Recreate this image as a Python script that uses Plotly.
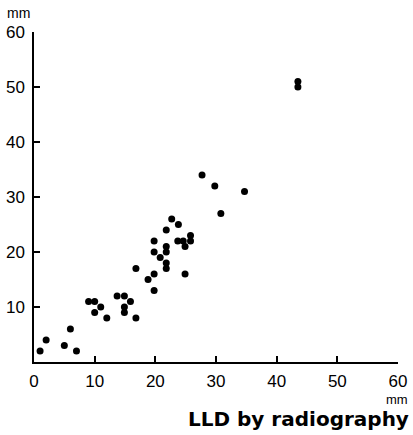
import plotly.graph_objects as go

# LLD by radiography (x, mm) vs LLD by other method (y, mm)
x_vals = [1, 2, 5, 6, 7, 9, 10, 10, 11, 12, 13.7, 14.9, 14.9, 14.9, 15.9, 16.8, 16.8,
          18.8, 19.8, 19.8, 19.8, 19.8, 20.8, 21.8, 21.8, 21.8, 21.8, 21.8, 22.7, 23.8,
          23.7, 24.6, 24.9, 24.9, 25.8, 25.8, 27.7, 29.8, 34.7, 30.8, 43.5, 43.5]
y_vals = [2, 4, 3, 6, 2, 11, 11, 9, 10, 8, 12, 12, 10, 9, 11, 17, 8,
          15, 13, 16, 20, 22, 19, 17, 18, 20, 21, 24, 26, 25,
          22, 22, 21, 16, 23, 22, 34, 32, 31, 27, 51, 50]

tick_vals = [0, 10, 20, 30, 40, 50, 60]
x_tick_text = ["0", "10", "20", "30", "40", "50", "60"]
y_tick_text = ["", "10", "20", "30", "40", "50", "60"]
inner_ticks = [10, 20, 30, 40, 50]

fig = go.Figure()
fig.add_trace(go.Scatter(
    x=x_vals, y=y_vals, mode="markers",
    marker=dict(color="black", size=7, line=dict(width=0)),
    showlegend=False, cliponaxis=False,
))

font = dict(family="Liberation Sans, Arial, sans-serif", size=17, color="black")

fig.update_layout(
    width=413, height=435,
    margin=dict(l=34, r=15, t=32, b=73, autoexpand=False),
    paper_bgcolor="white", plot_bgcolor="white",
    font=font,
    xaxis=dict(
        range=[0, 60], showgrid=False, zeroline=False, automargin=False,
        showline=True, linecolor="black", linewidth=1.5,
        tickmode="array", tickvals=tick_vals, ticktext=x_tick_text,
        ticks="", ticklen=0, ticklabelstandoff=3,
        minor=dict(tickmode="array", tickvals=inner_ticks, ticks="inside",
                   ticklen=6, tickwidth=1.5, tickcolor="black", showgrid=False),
        tickfont=font,
    ),
    yaxis=dict(
        range=[0, 60], showgrid=False, zeroline=False, automargin=False,
        showline=True, linecolor="black", linewidth=1.5,
        tickmode="array", tickvals=tick_vals, ticktext=y_tick_text,
        ticks="", ticklen=0, ticklabelstandoff=4,
        minor=dict(tickmode="array", tickvals=inner_ticks, ticks="inside",
                   ticklen=6, tickwidth=1.5, tickcolor="black", showgrid=False),
        tickfont=font,
    ),
    annotations=[
        dict(text="mm", xref="paper", yref="paper", x=0, y=1.0, xshift=-29, yshift=19,
             xanchor="left", yanchor="middle", showarrow=False,
             font=dict(family="Liberation Sans, Arial, sans-serif", size=14, color="black")),
        dict(text="mm", xref="paper", yref="paper", x=1.0, y=0, xshift=12, yshift=-37,
             xanchor="right", yanchor="middle", showarrow=False,
             font=dict(family="Liberation Sans, Arial, sans-serif", size=13, color="black")),
        dict(text="<b>LLD by radiography</b>", xref="paper", yref="paper", x=1.0, y=0,
             xshift=13, yshift=-57, xanchor="right", yanchor="middle", showarrow=False,
             font=dict(family="DejaVu Sans, sans-serif", size=20, color="black")),
    ],
)

fig.write_html("out.html", config={"displayModeBar": False},
               post_script="document.body.style.margin='0';")
